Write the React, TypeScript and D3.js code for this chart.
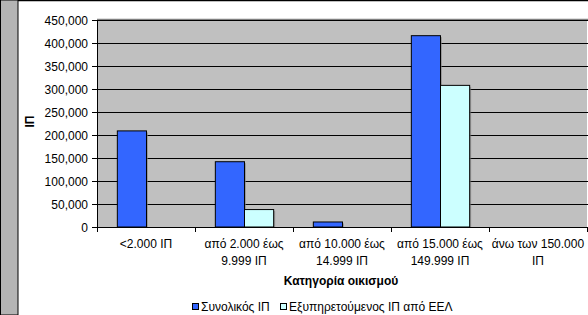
import React from 'react';
import * as d3 from 'd3';

const categories = [
  ['<2.000 ΙΠ'],
  ['από 2.000 έως', '9.999 ΙΠ'],
  ['από 10.000 έως', '14.999 ΙΠ'],
  ['από 15.000 έως', '149.999 ΙΠ'],
  ['άνω των 150.000', 'ΙΠ'],
];
const seriesNames = ['Συνολικός ΙΠ', 'Εξυπηρετούμενος ΙΠ από ΕΕΛ'];
const totalPE = [210000, 143000, 12000, 417000, 0];
const servedPE = [0, 39000, 0, 309000, 0];
const yTicks = [0, 50000, 100000, 150000, 200000, 250000, 300000, 350000, 400000, 450000];

const colors = ['#3366FF', '#CCFFFF'];
const font = '"Liberation Sans", Arial, sans-serif';

const App = () => {
  const width = 588, height = 315;
  const plot = { left: 97, top: 20, right: 587, bottom: 227 };

  const x = d3.scaleBand<number>()
    .domain(categories.map((_, i) => i))
    .range([plot.left, plot.right]);
  const inner = d3.scaleBand<number>()
    .domain([0, 1])
    .range([0, x.bandwidth()])
    .paddingOuter(0.68)
    .paddingInner(0);
  const y = d3.scaleLinear().domain([0, 450000]).range([plot.bottom, plot.top]);
  const fmt = d3.format(',');

  const series = [totalPE, servedPE];
  // legend squares and labels
  const legendX = [192, 280];

  return (
    <svg width={width} height={height} style={{ display: 'block', position: 'absolute', left: 0, top: 0 }}
      fontFamily={font}>
      <rect x={0} y={0} width={width} height={height} fill="#fff" />
      {/* left grey strip of the frame */}
      <rect x={0.5} y={0} width={17.5} height={height} fill="#B4B4B4" stroke="#000" strokeWidth={1} />
      <line x1={18} x2={width} y1={0.5} y2={0.5} stroke="#000" strokeWidth={1.5} />

      {/* plot area */}
      <rect x={plot.left} y={plot.top} width={plot.right - plot.left} height={plot.bottom - plot.top}
        fill="#C0C0C0" />
      <line x1={plot.left} x2={plot.right + 2} y1={plot.top - 0.5} y2={plot.top - 0.5} stroke="#808080" strokeWidth={1.5} />
      {yTicks.slice(1).map(t => (
        <line key={t} x1={plot.left} x2={plot.right + 2} y1={Math.round(y(t)) + 0.5} y2={Math.round(y(t)) + 0.5}
          stroke="#000" strokeWidth={1} />
      ))}

      {/* bars */}
      {series.map((vals, s) => (
        <g key={s}>
          {vals.map((v, i) => v > 0 && (
            <g key={i}>
              <rect x={(x(i) as number) + (inner(s) as number) + 2} y={y(v) + 2}
                width={inner.bandwidth()} height={plot.bottom - y(v) - 2} fill="#808080" opacity={0.6} />
              <rect x={(x(i) as number) + (inner(s) as number) + 0.5} y={y(v) + 0.5}
                width={inner.bandwidth()} height={plot.bottom - y(v) - 0.5}
                fill={colors[s]} stroke="#000" strokeWidth={1} />
            </g>
          ))}
        </g>
      ))}

      {/* y axis */}
      <line x1={plot.left + 0.5} x2={plot.left + 0.5} y1={plot.top} y2={plot.bottom + 1} stroke="#000" />
      {yTicks.map(t => (
        <g key={t}>
          <line x1={plot.left - 5} x2={plot.left} y1={Math.round(y(t)) + 0.5} y2={Math.round(y(t)) + 0.5} stroke="#000" />
          <text x={plot.left - 9} y={y(t) + 4.5} textAnchor="end" fontSize={12} fill="#000">{fmt(t)}</text>
        </g>
      ))}
      <text transform={`translate(34,${(plot.top + plot.bottom) / 2 - 2}) rotate(-90)`} textAnchor="middle"
        fontSize={12} fontWeight="bold">ΙΠ</text>

      {/* x axis */}
      <line x1={plot.left} x2={plot.right + 2} y1={plot.bottom + 0.5} y2={plot.bottom + 0.5} stroke="#000" />
      {categories.map((_, i) => (
        <line key={i} x1={Math.round(x(i) as number) + 0.5} x2={Math.round(x(i) as number) + 0.5}
          y1={plot.bottom} y2={plot.bottom + 5} stroke="#000" />
      ))}
      <line x1={plot.right + 0.5} x2={plot.right + 0.5} y1={plot.bottom} y2={plot.bottom + 5} stroke="#000" />
      {categories.map((lines, i) => (
        <text key={i} textAnchor="middle" fontSize={12} fill="#000">
          {lines.map((l, j) => (
            <tspan key={j} x={(x(i) as number) + x.bandwidth() / 2} y={248 + j * 17}>{l}</tspan>
          ))}
        </text>
      ))}
      <text x={341} y={285} textAnchor="middle" fontSize={12} fontWeight="bold">Κατηγορία οικισμού</text>

      {/* legend */}
      {seriesNames.map((name, s) => (
        <g key={s}>
          <rect x={legendX[s] + 0.5} y={303.5} width={6} height={6} fill={colors[s]} stroke="#000" />
          <text x={legendX[s] + 9} y={311} fontSize={12}>{name}</text>
        </g>
      ))}
    </svg>
  );
};

export default App;
